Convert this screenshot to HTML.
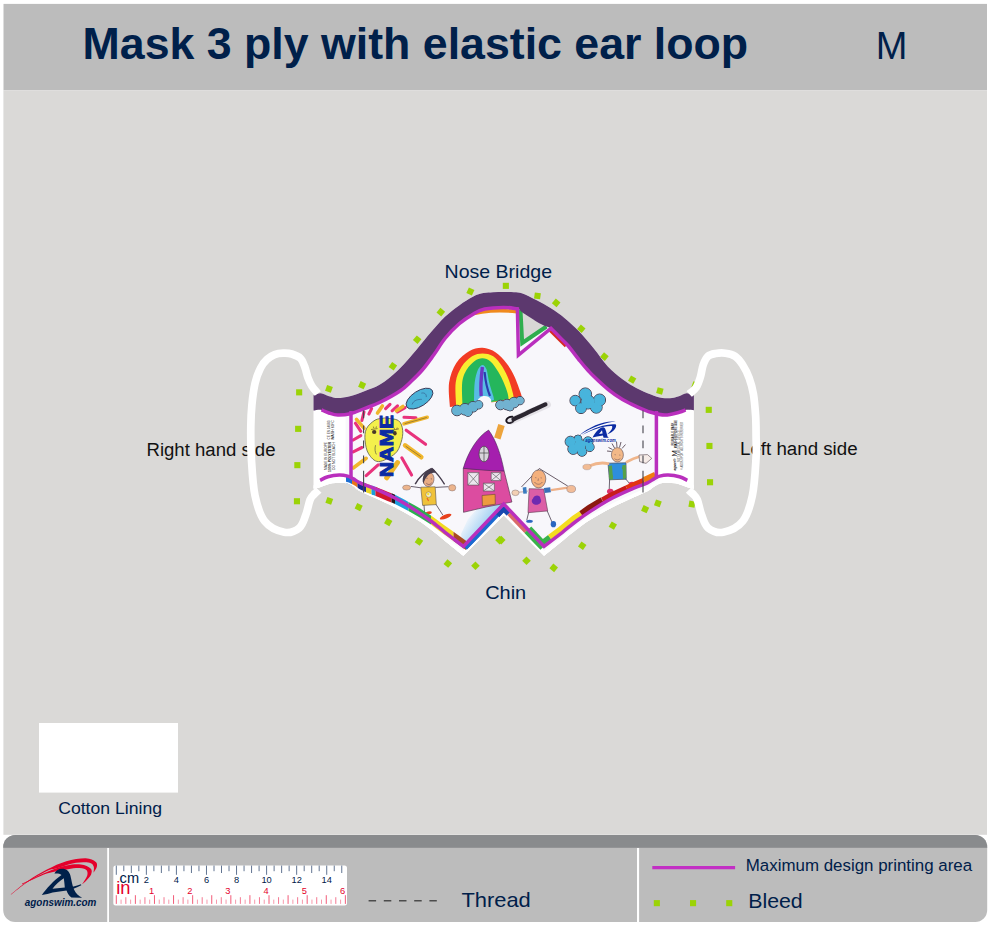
<!DOCTYPE html>
<html><head><meta charset="utf-8">
<title>Mask 3 ply with elastic ear loop</title>
<style>
html,body{margin:0;padding:0;background:#fff;}
body{width:988px;height:926px;position:relative;overflow:hidden;font-family:"Liberation Sans",Arial,sans-serif;color:#00204a;}
#hdr{position:absolute;left:3.5px;top:4px;width:983.5px;height:86px;background:#bcbcbc;}
#main{position:absolute;left:3.5px;top:90px;width:983.5px;height:744.7px;background:#dad9d7;}
#ftr{position:absolute;left:3.3px;top:834.8px;width:983.8px;height:87.3px;background:#bcbcbc;border-radius:12px;overflow:hidden;}
#ftr .top{position:absolute;left:0;top:0;width:100%;height:12.8px;background:#898b8d;}
.t{position:absolute;white-space:nowrap;line-height:1;z-index:2;}
#title{left:82.6px;top:21.6px;font-size:44.7px;font-weight:bold;}
#size{left:875.8px;top:26.6px;font-size:38px;}
svg{position:absolute;left:0;top:0;}
</style></head><body>
<div class="t" id="title">Mask 3 ply with elastic ear loop</div>
<div class="t" id="size">M</div>
<svg id="art" width="988" height="926" viewBox="0 0 988 926" font-family="Liberation Sans, Arial, sans-serif"><defs><clipPath id="mk"><path d="M313.5,395.3 C314.7,395.0 318.2,393.1 320.8,393.3 C323.4,393.5 326.2,395.5 329.0,396.3 C331.8,397.1 334.3,398.1 337.8,398.1 C341.3,398.1 345.5,397.5 350.0,396.3 C354.5,395.1 360.0,392.9 365.0,391.0 C370.0,389.1 374.4,388.1 380.0,384.6 C385.6,381.1 392.2,375.9 398.3,370.0 C404.4,364.1 411.3,355.7 416.7,349.4 C422.1,343.1 426.2,337.7 430.9,332.3 C435.6,326.9 440.3,321.3 445.0,316.8 C449.7,312.3 454.5,308.8 459.2,305.4 C463.9,302.0 469.3,298.6 473.4,296.5 C477.4,294.4 480.2,293.8 483.5,293.1 C486.8,292.4 489.6,292.4 493.0,292.2 C496.4,292.0 500.2,292.0 503.7,292.0 C507.2,292.0 510.9,292.0 514.0,292.2 C517.1,292.4 518.7,292.0 522.5,293.4 C526.3,294.8 532.0,297.8 536.7,300.3 C541.4,302.8 546.2,305.3 550.9,308.3 C555.6,311.3 560.3,314.5 565.0,318.4 C569.7,322.3 574.4,326.5 579.2,331.5 C584.0,336.5 589.0,342.6 593.8,348.5 C598.6,354.4 603.2,361.6 608.0,366.7 C612.8,371.8 617.7,375.6 622.5,379.2 C627.3,382.8 632.0,385.7 636.7,388.2 C641.4,390.7 646.6,392.8 650.9,394.4 C655.1,396.0 658.7,397.3 662.2,397.9 C665.7,398.5 669.3,398.4 672.1,398.1 C674.9,397.8 676.6,397.1 679.0,396.3 C681.4,395.5 684.0,393.5 686.5,393.3 C689.0,393.1 692.7,395.0 693.9,395.3 L693.9,488.8 C692.7,488.5 689.7,487.8 686.6,486.9 C683.5,486.0 679.3,483.9 675.3,483.3 C671.3,482.7 666.0,482.5 662.5,483.1 C659.0,483.7 656.5,485.3 654.0,486.7 C651.5,488.1 650.9,489.5 647.4,491.3 C643.9,493.1 639.1,494.9 633.2,497.6 C627.3,500.3 619.1,503.9 612.0,507.6 C604.9,511.3 596.6,516.0 590.7,519.6 C584.8,523.2 581.2,526.0 576.5,529.5 C571.8,533.0 567.8,536.5 562.4,540.9 C557.0,545.3 547.1,553.2 544.0,555.7 L503.7,515.3 L463.4,555.7 C460.3,553.2 450.4,545.3 445.0,540.9 C439.6,536.5 435.6,533.0 430.9,529.5 C426.2,526.0 422.6,523.2 416.7,519.6 C410.8,516.0 402.5,511.3 395.4,507.6 C388.3,503.9 380.1,500.3 374.2,497.6 C368.3,494.9 363.5,493.1 360.0,491.3 C356.5,489.5 355.9,488.1 353.4,486.7 C350.9,485.3 348.4,483.7 344.9,483.1 C341.3,482.5 336.1,482.7 332.1,483.3 C328.1,483.9 323.9,486.0 320.8,486.9 C317.7,487.8 314.7,488.5 313.5,488.8 Z"/></clipPath><clipPath id="ar"><rect x="345.6" y="280" width="312.5" height="290"/></clipPath><linearGradient id="bl" x1="0" y1="0.2" x2="1" y2="0.8"><stop offset="0.15" stop-color="#f4f7fc"/><stop offset="0.8" stop-color="#5fb2ec"/></linearGradient></defs><rect x="3.5" y="3.9" width="983.5" height="86.3" fill="#bcbcbc"/><rect x="3.4" y="90.2" width="983.6" height="744.6" fill="#dad9d7"/><clipPath id="fc"><rect x="3.2" y="834.9" width="984" height="87.2" rx="12" ry="12"/></clipPath><g clip-path="url(#fc)"><rect x="0" y="834" width="988" height="90" fill="#bcbcbc"/><rect x="0" y="834" width="988" height="13.8" fill="#898b8d"/></g><text x="146.5" y="455.8" font-size="18" fill="#111" textLength="129" lengthAdjust="spacingAndGlyphs">Right hand side</text><text x="740" y="454.8" font-size="18" fill="#111" textLength="117.6" lengthAdjust="spacingAndGlyphs">Left hand side</text><rect x="296.1" y="389.3" width="6.1" height="6.1" fill="#9bd306" transform="rotate(0 299.1 392.4)"/><rect x="295.1" y="425.8" width="6.1" height="6.1" fill="#9bd306" transform="rotate(0 298.1 428.8)"/><rect x="294.3" y="462.1" width="6.1" height="6.1" fill="#9bd306" transform="rotate(0 297.4 465.1)"/><rect x="293.9" y="498.2" width="6.1" height="6.1" fill="#9bd306" transform="rotate(0 297.0 501.3)"/><rect x="325.9" y="385.8" width="6.1" height="6.1" fill="#9bd306" transform="rotate(20 329.0 388.9)"/><rect x="359.1" y="382.1" width="6.1" height="6.1" fill="#9bd306" transform="rotate(25 362.1 385.1)"/><rect x="389.8" y="363.3" width="6.1" height="6.1" fill="#9bd306" transform="rotate(35 392.9 366.4)"/><rect x="414.1" y="336.6" width="6.1" height="6.1" fill="#9bd306" transform="rotate(40 417.1 339.7)"/><rect x="437.8" y="309.1" width="6.1" height="6.1" fill="#9bd306" transform="rotate(40 440.8 312.1)"/><rect x="467.3" y="288.4" width="6.1" height="6.1" fill="#9bd306" transform="rotate(25 470.4 291.5)"/><rect x="502.8" y="282.8" width="6.1" height="6.1" fill="#9bd306" transform="rotate(0 505.9 285.9)"/><rect x="534.4" y="292.8" width="6.1" height="6.1" fill="#9bd306" transform="rotate(8 537.4 295.9)"/><rect x="553.1" y="299.8" width="6.1" height="6.1" fill="#9bd306" transform="rotate(40 556.1 302.9)"/><rect x="578.2" y="325.8" width="6.1" height="6.1" fill="#9bd306" transform="rotate(40 581.3 328.8)"/><rect x="601.4" y="353.6" width="6.1" height="6.1" fill="#9bd306" transform="rotate(40 604.4 356.6)"/><rect x="629.1" y="376.6" width="6.1" height="6.1" fill="#9bd306" transform="rotate(30 632.1 379.7)"/><rect x="656.8" y="387.9" width="6.1" height="6.1" fill="#9bd306" transform="rotate(15 659.8 391.0)"/><rect x="692.2" y="382.1" width="6.1" height="6.1" fill="#9bd306" transform="rotate(20 695.2 385.2)"/><rect x="705.7" y="406.8" width="6.1" height="6.1" fill="#9bd306" transform="rotate(0 708.7 409.9)"/><rect x="706.4" y="442.9" width="6.1" height="6.1" fill="#9bd306" transform="rotate(0 709.4 446.0)"/><rect x="707.0" y="479.2" width="6.1" height="6.1" fill="#9bd306" transform="rotate(0 710.0 482.3)"/><rect x="688.9" y="501.1" width="6.1" height="6.1" fill="#9bd306" transform="rotate(10 691.9 504.1)"/><rect x="326.2" y="497.8" width="6.1" height="6.1" fill="#9bd306" transform="rotate(20 329.3 500.9)"/><rect x="355.6" y="504.1" width="6.1" height="6.1" fill="#9bd306" transform="rotate(25 358.7 507.2)"/><rect x="385.2" y="519.0" width="6.1" height="6.1" fill="#9bd306" transform="rotate(30 388.3 522.0)"/><rect x="415.9" y="538.6" width="6.1" height="6.1" fill="#9bd306" transform="rotate(35 419.0 541.6)"/><rect x="444.8" y="560.5" width="6.1" height="6.1" fill="#9bd306" transform="rotate(40 447.9 563.5)"/><rect x="472.4" y="562.7" width="6.1" height="6.1" fill="#9bd306" transform="rotate(45 475.5 565.7)"/><rect x="496.6" y="537.1" width="6.1" height="6.1" fill="#9bd306" transform="rotate(45 499.6 540.1)"/><rect x="498.2" y="537.1" width="6.1" height="6.1" fill="#9bd306" transform="rotate(45 501.3 540.1)"/><rect x="523.5" y="557.7" width="6.1" height="6.1" fill="#9bd306" transform="rotate(45 526.5 560.7)"/><rect x="550.7" y="564.8" width="6.1" height="6.1" fill="#9bd306" transform="rotate(40 553.7 567.8)"/><rect x="579.2" y="542.8" width="6.1" height="6.1" fill="#9bd306" transform="rotate(35 582.3 545.8)"/><rect x="609.8" y="522.5" width="6.1" height="6.1" fill="#9bd306" transform="rotate(30 612.8 525.5)"/><rect x="642.1" y="506.1" width="6.1" height="6.1" fill="#9bd306" transform="rotate(25 645.1 509.1)"/><rect x="654.8" y="500.3" width="6.1" height="6.1" fill="#9bd306" transform="rotate(20 657.8 503.4)"/><path d="M313.5,395.3 C314.7,395.0 318.2,393.1 320.8,393.3 C323.4,393.5 326.2,395.5 329.0,396.3 C331.8,397.1 334.3,398.1 337.8,398.1 C341.3,398.1 345.5,397.5 350.0,396.3 C354.5,395.1 360.0,392.9 365.0,391.0 C370.0,389.1 374.4,388.1 380.0,384.6 C385.6,381.1 392.2,375.9 398.3,370.0 C404.4,364.1 411.3,355.7 416.7,349.4 C422.1,343.1 426.2,337.7 430.9,332.3 C435.6,326.9 440.3,321.3 445.0,316.8 C449.7,312.3 454.5,308.8 459.2,305.4 C463.9,302.0 469.3,298.6 473.4,296.5 C477.4,294.4 480.2,293.8 483.5,293.1 C486.8,292.4 489.6,292.4 493.0,292.2 C496.4,292.0 500.2,292.0 503.7,292.0 C507.2,292.0 510.9,292.0 514.0,292.2 C517.1,292.4 518.7,292.0 522.5,293.4 C526.3,294.8 532.0,297.8 536.7,300.3 C541.4,302.8 546.2,305.3 550.9,308.3 C555.6,311.3 560.3,314.5 565.0,318.4 C569.7,322.3 574.4,326.5 579.2,331.5 C584.0,336.5 589.0,342.6 593.8,348.5 C598.6,354.4 603.2,361.6 608.0,366.7 C612.8,371.8 617.7,375.6 622.5,379.2 C627.3,382.8 632.0,385.7 636.7,388.2 C641.4,390.7 646.6,392.8 650.9,394.4 C655.1,396.0 658.7,397.3 662.2,397.9 C665.7,398.5 669.3,398.4 672.1,398.1 C674.9,397.8 676.6,397.1 679.0,396.3 C681.4,395.5 684.0,393.5 686.5,393.3 C689.0,393.1 692.7,395.0 693.9,395.3 L693.9,488.8 C692.7,488.5 689.7,487.8 686.6,486.9 C683.5,486.0 679.3,483.9 675.3,483.3 C671.3,482.7 666.0,482.5 662.5,483.1 C659.0,483.7 656.5,485.3 654.0,486.7 C651.5,488.1 650.9,489.5 647.4,491.3 C643.9,493.1 639.1,494.9 633.2,497.6 C627.3,500.3 619.1,503.9 612.0,507.6 C604.9,511.3 596.6,516.0 590.7,519.6 C584.8,523.2 581.2,526.0 576.5,529.5 C571.8,533.0 567.8,536.5 562.4,540.9 C557.0,545.3 547.1,553.2 544.0,555.7 L503.7,515.3 L463.4,555.7 C460.3,553.2 450.4,545.3 445.0,540.9 C439.6,536.5 435.6,533.0 430.9,529.5 C426.2,526.0 422.6,523.2 416.7,519.6 C410.8,516.0 402.5,511.3 395.4,507.6 C388.3,503.9 380.1,500.3 374.2,497.6 C368.3,494.9 363.5,493.1 360.0,491.3 C356.5,489.5 355.9,488.1 353.4,486.7 C350.9,485.3 348.4,483.7 344.9,483.1 C341.3,482.5 336.1,482.7 332.1,483.3 C328.1,483.9 323.9,486.0 320.8,486.9 C317.7,487.8 314.7,488.5 313.5,488.8 Z" fill="#fff"/><g clip-path="url(#mk)"><g clip-path="url(#ar)"><rect x="340" y="290" width="330" height="270" fill="#f8f7fb"/><path d="M463,547 L503.7,504 L512,501 L486,506.5 L477,509 L468,519 L461,534 Z" fill="url(#bl)"/><path d="M466,315.5 C480,311 500,309.8 517,311.6" stroke="#f08a1e" stroke-width="3.6" fill="none"/><path d="M549,329 L566,346" stroke="#d82a1e" stroke-width="3.5" fill="none"/><path d="M521,311 L523,340 L545,326.5 Z" fill="#d8d7d5"/><path d="M520.5,310 L522.2,343 L546.5,326.5" stroke="#2fae4e" stroke-width="4" fill="none" stroke-linejoin="miter"/><g transform="rotate(-33 419.5 398.6)"><ellipse cx="419.5" cy="398.6" rx="15.2" ry="7.6" fill="#4ab2d8" stroke="#3a3a58" stroke-width="0.9"/><path d="M410,399.5 C414,396.5 418,398.5 421,400.5 M424,395 C427,396 428,399 426,401" stroke="#3a6a98" stroke-width="0.7" fill="none"/></g><path d="M385.6,408.6 L390.0,404.3" stroke="#e8327c" stroke-width="3.1" stroke-linecap="round"/><path d="M392.1,410.8 L397.5,405.9" stroke="#e8327c" stroke-width="3.1" stroke-linecap="round"/><path d="M368.9,414.0 L371.6,408.6" stroke="#e8327c" stroke-width="3.1" stroke-linecap="round"/><path d="M361.9,420.5 L364.0,411.9" stroke="#e8327c" stroke-width="3.1" stroke-linecap="round"/><path d="M355.4,423.2 L360.8,431.3" stroke="#e8327c" stroke-width="3.1" stroke-linecap="round"/><path d="M353.2,440.0 L360.8,435.6" stroke="#e8327c" stroke-width="3.1" stroke-linecap="round"/><path d="M353.2,451.8 L361.9,447.5" stroke="#e8327c" stroke-width="3.1" stroke-linecap="round"/><path d="M366.2,475.6 L378.1,464.8" stroke="#e8327c" stroke-width="3.1" stroke-linecap="round"/><path d="M401.8,457.8 L411.6,475.0" stroke="#e8327c" stroke-width="3.1" stroke-linecap="round"/><path d="M406.2,430.2 L425.6,444.3" stroke="#e8327c" stroke-width="3.1" stroke-linecap="round"/><path d="M404.0,417.3 L415.9,417.8" stroke="#e8327c" stroke-width="3.1" stroke-linecap="round"/><path d="M397.5,411.9 L405.1,407.6" stroke="#e8327c" stroke-width="3.1" stroke-linecap="round"/><path d="M377.5,413.0 L382.4,405.9" stroke="#f0b62c" stroke-width="3.6" stroke-linecap="round"/><path d="M396.4,410.8 L402.9,406.5" stroke="#f0b62c" stroke-width="3.6" stroke-linecap="round"/><path d="M404.0,423.8 L427.2,417.3" stroke="#f0b62c" stroke-width="3.6" stroke-linecap="round"/><path d="M356.5,419.4 L364.0,428.1" stroke="#f0b62c" stroke-width="3.6" stroke-linecap="round"/><path d="M353.2,468.0 L366.2,458.3" stroke="#f0b62c" stroke-width="3.6" stroke-linecap="round"/><path d="M405.1,445.4 L421.3,457.2" stroke="#f0b62c" stroke-width="4.6" stroke-linecap="round"/><path d="M406.0,446.4 L420.4,456.4" stroke="#6a5a30" stroke-width="0.6" stroke-linecap="round"/><path d="M405.0,423.6 L426.4,417.6" stroke="#6a5a30" stroke-width="0.6" stroke-linecap="round"/><path d="M386.7,477.8 L397.5,462.6" stroke="#f0b62c" stroke-width="5.0" stroke-linecap="round"/><path d="M384.6,418.0 C386.9,418.4 395.4,418.5 398.4,420.6 C401.4,422.7 402.3,426.8 402.7,430.5 C403.1,434.2 402.3,438.7 401.0,442.6 C399.7,446.5 398.6,450.6 394.9,453.8 C391.1,457.0 382.9,461.6 378.5,461.6 C374.1,461.6 370.8,457.2 368.6,453.8 C366.4,450.4 365.5,445.1 365.1,440.9 C364.7,436.7 364.7,432.3 366.4,428.8 C368.1,425.3 372.1,421.9 375.1,420.1 C378.1,418.3 383.0,418.4 384.6,418.0 Z" fill="#f4f04c" stroke="#5a5a48" stroke-width="0.8"/><ellipse cx="374.2" cy="432" rx="2.2" ry="2" fill="#4a3a28"/><ellipse cx="394.9" cy="433.2" rx="1.8" ry="2.2" fill="#4a3a28"/><path d="M371,429.5 L377.5,428.6 M373.8,428.2 L373.4,426.6 M376,428 L376.4,426.4 M392,430.4 L399,428.8 M394.5,429.6 L394.2,427.8 M396.8,429.2 L397.2,427.6" stroke="#4a3a28" stroke-width="0.6" fill="none"/><path d="M375.5,445.2 C374.6,449 375,452 376.4,454.4" stroke="#5a5a40" stroke-width="0.7" fill="none"/><text transform="translate(392.6,477.3) rotate(-90)" font-family="Liberation Sans, Arial, sans-serif" font-weight="bold" font-size="18.4" fill="#0b2ba3" stroke="#0b2ba3" stroke-width="0.9" textLength="62.6" lengthAdjust="spacingAndGlyphs">NAME</text><path d="M449.9,407.0 C449.8,402.9 448.0,390.0 449.1,382.6 C450.2,375.2 452.9,368.2 456.3,362.9 C459.7,357.6 465.1,353.5 469.5,351.0 C473.9,348.5 478.2,347.6 482.6,347.8 C487.0,348.0 491.9,349.9 495.8,352.4 C499.8,354.9 503.2,359.0 506.3,362.9 C509.4,366.8 511.8,370.9 514.2,376.0 C516.6,381.1 519.5,389.4 520.8,393.2 C522.1,397.0 521.6,398.0 521.8,399.0 Z" fill="#f23c24"/><path d="M456.2,407.0 C456.1,402.9 454.8,389.3 455.7,382.6 C456.6,375.9 458.9,371.2 461.6,366.8 C464.3,362.4 468.6,358.5 472.1,356.3 C475.6,354.1 479.1,353.4 482.6,353.4 C486.1,353.4 489.9,354.1 493.2,356.3 C496.5,358.5 499.8,362.9 502.4,366.8 C505.0,370.8 507.1,375.6 508.9,380.0 C510.6,384.4 512.1,390.0 512.9,393.2 C513.7,396.4 513.6,398.0 513.8,399.0 Z" fill="#f9ee30"/><path d="M462.6,407.0 C462.5,402.9 461.5,388.9 462.2,382.6 C462.9,376.4 464.7,373.1 466.8,369.5 C468.9,365.9 472.1,362.8 474.7,360.9 C477.3,359.0 480.0,358.2 482.6,358.3 C485.2,358.4 487.9,359.3 490.5,361.6 C493.1,363.9 496.2,368.6 498.4,372.1 C500.6,375.6 502.2,379.1 503.7,382.6 C505.2,386.1 506.8,390.5 507.6,393.2 C508.4,395.9 508.4,398.0 508.6,399.0 Z" fill="#25b65c"/><path d="M474.0,404.0 C474.1,400.4 474.0,388.4 474.7,382.6 C475.4,376.9 476.7,372.4 478.0,369.5 C479.3,366.6 481.2,364.9 482.6,364.9 C484.0,364.9 485.5,366.6 486.6,369.5 C487.7,372.4 488.1,378.2 489.2,382.6 C490.3,387.0 492.4,392.9 493.2,395.8 C494.0,398.7 493.9,399.3 494.0,400.0 Z" fill="#58bce4"/><path d="M482.4,367 C481,378 480.5,388 481.2,396" stroke="#6a38c2" stroke-width="3.4" fill="none"/><path d="M484.6,372 C485.5,382 487.5,390 490,396" stroke="#2a3cae" stroke-width="2.2" fill="none"/><path d="M476.5,404 C477.5,395 488,394 491,399.5 L491.5,404 Z" fill="#f8f7fb"/><g><circle cx="457.0" cy="410.5" r="5.3" fill="#66b2d2" stroke="#4a4658" stroke-width="1"/><circle cx="465.0" cy="409.3" r="5.8" fill="#66b2d2" stroke="#4a4658" stroke-width="1"/><circle cx="473.0" cy="406.8" r="5.3" fill="#66b2d2" stroke="#4a4658" stroke-width="1"/><circle cx="478.6" cy="404.8" r="4.2" fill="#66b2d2" stroke="#4a4658" stroke-width="1"/><circle cx="468.0" cy="412.0" r="4.4" fill="#66b2d2" stroke="#4a4658" stroke-width="1"/><circle cx="457.0" cy="410.5" r="4.8" fill="#66b2d2"/><circle cx="465.0" cy="409.3" r="5.3" fill="#66b2d2"/><circle cx="473.0" cy="406.8" r="4.8" fill="#66b2d2"/><circle cx="478.6" cy="404.8" r="3.7" fill="#66b2d2"/><circle cx="468.0" cy="412.0" r="3.9" fill="#66b2d2"/></g><g><circle cx="500.5" cy="405.0" r="4.8" fill="#72b2d0" stroke="#4a4658" stroke-width="1"/><circle cx="507.0" cy="404.6" r="5.3" fill="#72b2d0" stroke="#4a4658" stroke-width="1"/><circle cx="514.0" cy="402.6" r="5.3" fill="#72b2d0" stroke="#4a4658" stroke-width="1"/><circle cx="520.0" cy="400.6" r="4.2" fill="#72b2d0" stroke="#4a4658" stroke-width="1"/><circle cx="510.0" cy="407.0" r="4.0" fill="#72b2d0" stroke="#4a4658" stroke-width="1"/><circle cx="500.5" cy="405.0" r="4.3" fill="#72b2d0"/><circle cx="507.0" cy="404.6" r="4.8" fill="#72b2d0"/><circle cx="514.0" cy="402.6" r="4.8" fill="#72b2d0"/><circle cx="520.0" cy="400.6" r="3.7" fill="#72b2d0"/><circle cx="510.0" cy="407.0" r="3.5" fill="#72b2d0"/></g><path d="M512.5,416.8 C507.5,416.6 505.2,420.2 507,422.2 C508.6,423.8 511.5,423 513,421.6" stroke="#17121c" stroke-width="1.9" fill="none" stroke-linecap="round"/><path d="M513.5,419.4 C519,416 524,415 528.5,412.2 C534,409.4 539,407.6 545.4,404.4" stroke="#17121c" stroke-width="4.3" fill="none" stroke-linecap="round"/><path d="M511,421 L547.5,404.6" stroke="#8a8690" stroke-width="7" fill="none" stroke-linecap="round" opacity="0.18"/><path d="M498.3,424 L504.7,426 L500.5,439.5 L494.2,437.5 Z" fill="#eda43c"/><path d="M463.3,468.3 L504.1,470.9 L511.9,502 L486,507 L463.5,512.3 Z" fill="#dc4ca0" stroke="#5a3a55" stroke-width="0.7"/><path d="M463.3,468.3 C468,452 478,436 488.6,430.1 C496,440 501,455 504.1,470.9 C490,471 476,469.5 463.3,468.3 Z" fill="#a51fae" stroke="#4a2a55" stroke-width="0.6"/><ellipse cx="484" cy="454" rx="5" ry="7.8" fill="#d8d4dc" stroke="#444" stroke-width="0.7"/><path d="M484,446.5 L484,461.5 M479.3,453 L488.7,453" stroke="#444" stroke-width="0.7"/><path d="M467.8,472.6 L478.9,472.6 L478.9,485.1 L467.8,485.1 Z M467.8,472.6 L478.9,485.1 M478.9,472.6 L467.8,485.1" fill="#ece6ee" stroke="#555" stroke-width="0.6"/><path d="M491.2,472.6 L500.9,472.6 L500.9,480.6 L491.2,480.6 Z M491.2,472.6 L500.9,480.6 M500.9,472.6 L491.2,480.6" fill="#ece6ee" stroke="#555" stroke-width="0.6"/><path d="M483.4,483.2 L494.4,483.2 L494.4,491.0 L483.4,491.0 Z M483.4,483.2 L494.4,491.0 M494.4,483.2 L483.4,491.0" fill="#ece6ee" stroke="#555" stroke-width="0.6"/><path d="M482.1,495.5 L495.1,494.3 L495.3,504.2 L482.4,506 Z" fill="#ee9a3e" stroke="#6a4a30" stroke-width="0.6"/><path d="M431.7,468.3 Q421,473.5 415.2,484.1" stroke="#453c4c" stroke-width="1.5" fill="none"/><path d="M431.7,468.3 Q438.5,474.5 444.6,484.4" stroke="#453c4c" stroke-width="1.3" fill="none"/><ellipse cx="428.6" cy="479.4" rx="5.4" ry="7.2" fill="#e8ac84" stroke="#5a4c58" stroke-width="0.5" transform="rotate(8 428.6 479.4)"/><path d="M423.2,484 C421.5,476 425,470.2 432.5,468.5 C434.5,469.5 435.5,471 435.8,473 C431,471.5 426,475 423.2,484 Z" fill="#453c4c"/><path d="M426.3,483.2 C428,485.2 430.6,484.8 431.8,482.6 M426.4,478.3 L427.6,478.3 M430.8,478.8 L432,479" stroke="#5a4458" stroke-width="0.6" fill="none"/><path d="M420.8,487.2 L435.2,486.8 L436.3,504.6 L422.6,505.4 Z" fill="#f0c23a" stroke="#5a5048" stroke-width="0.6"/><circle cx="428.6" cy="494.6" r="2.7" fill="#f6f0cc" stroke="#6a6040" stroke-width="0.4"/><circle cx="428.2" cy="494" r="1.2" fill="#f4e034"/><path d="M427,498 L428.6,501" stroke="#e8602c" stroke-width="1.2"/><path d="M420.8,487.8 L410.8,486.4 M435.4,487.4 L448.6,486.7" stroke="#5a5060" stroke-width="0.9"/><ellipse cx="406.6" cy="487.6" rx="4" ry="2.5" fill="#ecb48c" stroke="#6a5a60" stroke-width="0.4"/><ellipse cx="452.2" cy="487.8" rx="3.6" ry="3.2" fill="#ecb48c" stroke="#6a5a60" stroke-width="0.4"/><path d="M424,505.2 L424.6,512.8 M436,504.4 L442.8,515" stroke="#4a4050" stroke-width="0.8"/><ellipse cx="428.4" cy="512.9" rx="3.4" ry="1.5" fill="#e8401c" transform="rotate(-12 428.4 512.9)"/><ellipse cx="445.6" cy="516.6" rx="6.2" ry="2" fill="#e8401c" transform="rotate(-22 445.6 516.6)"/><path d="M539.3,468.5 L521.5,486.9 M539.3,468.5 L567.8,486.1" stroke="#5a4c58" stroke-width="0.9" fill="none"/><ellipse cx="538.6" cy="478.9" rx="7.2" ry="9" fill="#f4b07c" stroke="#5a4a50" stroke-width="0.6"/><path d="M534.4,482 C536.5,485 540.5,485 542.4,482 M535.2,477.6 L536.4,477.8 M540.6,477.8 L541.8,478 M538.4,478.5 L538,481" stroke="#6a5058" stroke-width="0.55" fill="none"/><path d="M529.1,488.7 L543.7,489.1 L547.7,510.9 L528,512.7 Z" fill="#dc5ea6" stroke="#5a4050" stroke-width="0.6"/><path d="M533,498.5 C534,494.5 540.5,494.5 540.5,498.8 C543,502.5 538,506 534.5,504.5 C531.5,503.5 531,500 533,498.5 Z" fill="#6e2ab0"/><path d="M529,491 L518,492.4" stroke="#d8c8c8" stroke-width="1.6"/><path d="M551,490.1 L568,487.6" stroke="#eeb088" stroke-width="2.2"/><rect x="523" y="487.2" width="3.6" height="6.4" fill="#3a7cc0" transform="rotate(-6 524.8 490.4)"/><rect x="544.2" y="487.6" width="6.4" height="5" fill="#3a70b8" transform="rotate(-8 547.4 490.1)"/><ellipse cx="515.4" cy="492.8" rx="3.6" ry="2.8" fill="#f2d0b4" stroke="#6a5a60" stroke-width="0.4"/><ellipse cx="571.2" cy="489" rx="4.4" ry="3.6" fill="#f2bc98" stroke="#6a5a60" stroke-width="0.4"/><path d="M528.6,512.7 L526.8,520 M547.2,510.9 L552.3,522.8" stroke="#4a4050" stroke-width="0.8"/><ellipse cx="529.5" cy="521.2" rx="3.3" ry="1.5" fill="#2a66c0"/><ellipse cx="553.4" cy="524.2" rx="2.7" ry="3.1" fill="#2a66c0"/><path d="M614.5,448 L612,443.5 M617,447.3 L616.5,441.5 M619.5,447.5 L621,442 M622,448.5 L625.5,444.5 M612.5,449.5 L608.5,447.5 M611.5,451.5 L607,451" stroke="#5a4c58" stroke-width="0.9"/><ellipse cx="617.4" cy="454.8" rx="6" ry="7.2" fill="#f2b888" stroke="#5a4a50" stroke-width="0.6"/><path d="M614.5,458.6 C616,460.4 619,460.2 620.4,458.4 M614.6,454.6 L615.8,454.8 M619.2,455 L620.4,455.2" stroke="#6a5058" stroke-width="0.55" fill="none"/><path d="M608,463.2 L626,462.8 L626.2,479.2 L609.4,479.8 Z" fill="#2e8edc" stroke="#4a4a58" stroke-width="0.7"/><path d="M608.6,466 L612,465.5 L613,479.5 L609.4,479.8 Z M622.5,465 L626,465 L626.2,478 L623,479.2 Z" fill="#56a04a"/><circle cx="611" cy="476.5" r="2" fill="#56a04a"/><circle cx="623.6" cy="468" r="1.8" fill="#56a04a"/><path d="M608,463.6 C601,462 595,463.5 589,466" stroke="#f0b68c" stroke-width="2.8" fill="none" stroke-linecap="round"/><ellipse cx="587" cy="467" rx="4.2" ry="2.8" fill="#f2bc94" stroke="#7a6a68" stroke-width="0.3"/><path d="M626,462.4 C631,459.5 635,457.6 640,456.4" stroke="#f0b68c" stroke-width="2.6" fill="none"/><path d="M639,455 L647.5,454.6 L651.8,458.4 L646,463.4 L639.6,461.6 Z" fill="#f6ece8" stroke="#5a4a50" stroke-width="0.6"/><path d="M609.6,479.6 L609.2,490 M625.6,478.8 L629.6,483.6" stroke="#4a4050" stroke-width="0.8"/><ellipse cx="610.3" cy="491.4" rx="3.3" ry="2.6" fill="#dc306c"/><ellipse cx="632" cy="484" rx="3.3" ry="2.3" fill="#dc306c"/><g><circle cx="585.3" cy="394.2" r="6.3" fill="#48b4dc" stroke="#4a4658" stroke-width="1"/><circle cx="575.2" cy="400.6" r="5.3" fill="#48b4dc" stroke="#4a4658" stroke-width="1"/><circle cx="581.0" cy="408.2" r="5.4" fill="#48b4dc" stroke="#4a4658" stroke-width="1"/><circle cx="596.3" cy="407.3" r="5.9" fill="#48b4dc" stroke="#4a4658" stroke-width="1"/><circle cx="599.6" cy="400.0" r="6.0" fill="#48b4dc" stroke="#4a4658" stroke-width="1"/><circle cx="588.0" cy="402.0" r="7.0" fill="#48b4dc" stroke="#4a4658" stroke-width="1"/><circle cx="585.3" cy="394.2" r="5.8" fill="#48b4dc"/><circle cx="575.2" cy="400.6" r="4.8" fill="#48b4dc"/><circle cx="581.0" cy="408.2" r="4.9" fill="#48b4dc"/><circle cx="596.3" cy="407.3" r="5.4" fill="#48b4dc"/><circle cx="599.6" cy="400.0" r="5.5" fill="#48b4dc"/><circle cx="588.0" cy="402.0" r="6.5" fill="#48b4dc"/></g><g><circle cx="570.5" cy="441.6" r="5.4" fill="#48b4dc" stroke="#4a4658" stroke-width="1"/><circle cx="578.0" cy="439.0" r="4.0" fill="#48b4dc" stroke="#4a4658" stroke-width="1"/><circle cx="588.0" cy="441.8" r="5.0" fill="#48b4dc" stroke="#4a4658" stroke-width="1"/><circle cx="589.8" cy="447.2" r="4.4" fill="#48b4dc" stroke="#4a4658" stroke-width="1"/><circle cx="582.0" cy="451.5" r="4.8" fill="#48b4dc" stroke="#4a4658" stroke-width="1"/><circle cx="573.2" cy="449.0" r="5.4" fill="#48b4dc" stroke="#4a4658" stroke-width="1"/><circle cx="580.0" cy="445.5" r="6.0" fill="#48b4dc" stroke="#4a4658" stroke-width="1"/><circle cx="570.5" cy="441.6" r="4.9" fill="#48b4dc"/><circle cx="578.0" cy="439.0" r="3.5" fill="#48b4dc"/><circle cx="588.0" cy="441.8" r="4.5" fill="#48b4dc"/><circle cx="589.8" cy="447.2" r="3.9" fill="#48b4dc"/><circle cx="582.0" cy="451.5" r="4.3" fill="#48b4dc"/><circle cx="573.2" cy="449.0" r="4.9" fill="#48b4dc"/><circle cx="580.0" cy="445.5" r="5.5" fill="#48b4dc"/></g><path d="M579,435.5 C590,426 606,420 615.8,421.8 C608,421.5 592,427 579,435.5 Z M582,435 C594,427.5 608,423.5 616,424.5 C617,428 613,432 607,434.5 C611,431 613,428 612,426 C604,425.5 592,430 582,435 Z" fill="#0b2ba3"/><path d="M592.5,437.5 C596,431 600,427.5 603,427.2 C605.5,427 606,431 607.5,436.5 L608.8,437.8 L603.5,437.8 L603,435.5 L597,436.5 Z M599,434 L602.6,433.4 L602,430.2 Z" fill="#0b2ba3" fill-rule="evenodd"/><text x="585.3" y="442.3" font-family="Liberation Sans, Arial, sans-serif" font-style="italic" font-weight="bold" font-size="4.6" fill="#0b2ba3" textLength="30.5" lengthAdjust="spacingAndGlyphs">agonswim.com</text></g><path d="M313.5,488.8 C314.7,488.5 317.7,487.8 320.8,486.9 C323.9,486.0 328.1,483.9 332.1,483.3 C336.1,482.7 341.3,482.5 344.9,483.1 C348.4,483.7 350.9,485.3 353.4,486.7 C355.9,488.1 356.5,489.5 360.0,491.3 C363.5,493.1 368.3,494.9 374.2,497.6 C380.1,500.3 388.3,503.9 395.4,507.6 C402.5,511.3 410.8,516.0 416.7,519.6 C422.6,523.2 426.2,526.0 430.9,529.5 C435.6,533.0 439.6,536.5 445.0,540.9 C450.4,545.3 460.3,553.2 463.4,555.7 L503.7,515.3 L544.0,555.7 C547.1,553.2 557.0,545.3 562.4,540.9 C567.8,536.5 571.8,533.0 576.5,529.5 C581.2,526.0 584.8,523.2 590.7,519.6 C596.6,516.0 604.9,511.3 612.0,507.6 C619.1,503.9 627.3,500.3 633.2,497.6 C639.1,494.9 643.9,493.1 647.4,491.3 C650.9,489.5 651.5,488.1 654.0,486.7 C656.5,485.3 659.0,483.7 662.5,483.1 C666.0,482.5 671.3,482.7 675.3,483.3 C679.3,483.9 683.5,486.0 686.6,486.9 C689.7,487.8 692.7,488.5 693.9,488.8" fill="none" stroke="#fff" stroke-width="7" stroke-linejoin="miter"/><g clip-path="url(#ar)"><path d="M346.0,475.5 L347.5,475.6 L349.0,476.2 L350.5,476.8 L352.0,477.4 L352.0,486.6 L350.5,486.0 L349.0,485.4 L347.5,484.8 L346.0,484.7 Z" fill="#1c6ed2"/><path d="M352.0,477.4 L353.4,478.0 L354.8,478.8 L356.1,479.5 L357.5,480.2 L357.5,489.4 L356.1,488.7 L354.8,488.0 L353.4,487.2 L352.0,486.6 Z" fill="#ea7418"/><path d="M357.5,480.2 L359.6,481.3 L361.8,482.1 L363.9,482.8 L366.0,483.5 L366.0,492.7 L363.9,492.0 L361.8,491.3 L359.6,490.5 L357.5,489.4 Z" fill="#18288c"/><path d="M366.0,483.5 L367.4,484.0 L368.8,484.4 L370.1,484.9 L371.5,485.4 L371.5,494.6 L370.1,494.1 L368.8,493.6 L367.4,493.2 L366.0,492.7 Z" fill="#e8d428"/><path d="M371.5,485.4 L372.5,485.7 L373.5,486.0 L374.5,486.4 L375.5,486.8 L375.5,496.0 L374.5,495.6 L373.5,495.2 L372.5,494.9 L371.5,494.6 Z" fill="#1c9cd8"/><path d="M375.5,486.8 L379.5,488.4 L383.5,490.0 L387.5,491.7 L391.5,493.3 L391.5,502.5 L387.5,500.9 L383.5,499.2 L379.5,497.6 L375.5,496.0 Z" fill="#d21a2c"/><path d="M391.5,493.3 L392.4,493.6 L393.2,494.0 L394.1,494.3 L395.0,494.7 L395.0,503.9 L394.1,503.5 L393.2,503.2 L392.4,502.8 L391.5,502.5 Z" fill="#20141c"/><path d="M395.0,494.7 L398.4,496.5 L401.8,498.3 L405.1,500.1 L408.5,501.9 L408.5,511.1 L405.1,509.3 L401.8,507.5 L398.4,505.7 L395.0,503.9 Z" fill="#1e9cdc"/><path d="M408.5,501.9 L414.1,505.0 L419.8,508.3 L425.4,511.9 L431.0,515.4 L431.0,524.6 L425.4,521.1 L419.8,517.5 L414.1,514.2 L408.5,511.1 Z" fill="#2cae50"/><path d="M431.0,515.4 L436.6,519.6 L442.2,523.8 L447.9,527.8 L453.5,531.8 L453.5,541.0 L447.9,537.0 L442.2,533.0 L436.6,528.8 L431.0,524.6 Z" fill="#f2da20"/><path d="M453.5,531.8 L456.6,534.0 L459.8,536.3 L462.9,538.5 L466.0,540.8 L466.0,550.0 L462.9,547.7 L459.8,545.5 L456.6,543.2 L453.5,541.0 Z" fill="#a84c22"/><path d="M462.7,545.8 L503.0,503.3 L507.3,507.4 L467.0,549.9 Z" fill="#1c6ad0"/><path d="M494.3,512.5 L503.0,503.3 L508.1,508.1 L499.4,517.3 Z" fill="#1848b0"/><path d="M504.4,503.3 L511.7,511.0 L506.6,515.8 L499.3,508.1 Z" fill="#1848b0"/><path d="M511.0,511.7 L528.0,529.7 L524.4,533.1 L507.4,515.1 Z" fill="#d96a6a"/><path d="M531.3,526.6 L547.1,543.4 L540.2,549.9 L524.4,533.1 Z" fill="#38b24a"/><path d="M539.9,541.3 L548.1,535.1 L552.0,540.3 L543.8,546.5 Z" fill="#38b24a"/><path d="M548.0,535.1 L558.4,527.2 L572.5,515.8 L579.3,511.2 L583.0,516.5 L576.5,521.0 L562.4,532.3 L552.0,540.3 Z" fill="#f4dc20"/><path d="M579.3,511.2 L587.2,505.6 L600.6,497.4 L604.0,503.0 L590.7,511.1 L583.0,516.5 Z" fill="#8c1a10"/><path d="M601.0,497.8 L609.3,493.0 L625.5,485.4 L628.0,490.8 L612.0,498.3 L604.0,503.0 Z" fill="#c81c1c"/><path d="M625.5,485.4 L630.9,482.9 L642.8,478.1 L645.0,483.7 L633.2,488.4 L628.0,490.8 Z" fill="#e23412"/><path d="M642.5,477.1 L644.6,476.4 L654.1,472.1 L657.0,478.5 L647.4,482.8 L645.0,483.7 Z" fill="#f07c12"/></g><path d="M313.5,488.8 C314.7,488.5 317.7,487.8 320.8,486.9 C323.9,486.0 328.1,483.9 332.1,483.3 C336.1,482.7 341.3,482.5 344.9,483.1 C348.4,483.7 350.9,485.3 353.4,486.7 C355.9,488.1 356.5,489.5 360.0,491.3 C363.5,493.1 368.3,494.9 374.2,497.6 C380.1,500.3 388.3,503.9 395.4,507.6 C402.5,511.3 410.8,516.0 416.7,519.6 C422.6,523.2 426.2,526.0 430.9,529.5 C435.6,533.0 439.6,536.5 445.0,540.9 C450.4,545.3 460.3,553.2 463.4,555.7 L503.7,515.3 L544.0,555.7 C547.1,553.2 557.0,545.3 562.4,540.9 C567.8,536.5 571.8,533.0 576.5,529.5 C581.2,526.0 584.8,523.2 590.7,519.6 C596.6,516.0 604.9,511.3 612.0,507.6 C619.1,503.9 627.3,500.3 633.2,497.6 C639.1,494.9 643.9,493.1 647.4,491.3 C650.9,489.5 651.5,488.1 654.0,486.7 C656.5,485.3 659.0,483.7 662.5,483.1 C666.0,482.5 671.3,482.7 675.3,483.3 C679.3,483.9 683.5,486.0 686.6,486.9 C689.7,487.8 692.7,488.5 693.9,488.8" fill="none" stroke="#fff" stroke-width="3.4" stroke-linejoin="miter"/></g><path d="M313.5,395.3 C314.7,395.0 318.2,393.1 320.8,393.3 C323.4,393.5 326.2,395.5 329.0,396.3 C331.8,397.1 334.3,398.1 337.8,398.1 C341.3,398.1 345.5,397.5 350.0,396.3 C354.5,395.1 360.0,392.9 365.0,391.0 C370.0,389.1 374.4,388.1 380.0,384.6 C385.6,381.1 392.2,375.9 398.3,370.0 C404.4,364.1 411.3,355.7 416.7,349.4 C422.1,343.1 426.2,337.7 430.9,332.3 C435.6,326.9 440.3,321.3 445.0,316.8 C449.7,312.3 454.5,308.8 459.2,305.4 C463.9,302.0 469.3,298.6 473.4,296.5 C477.4,294.4 480.2,293.8 483.5,293.1 C486.8,292.4 489.6,292.4 493.0,292.2 C496.4,292.0 500.2,292.0 503.7,292.0 C507.2,292.0 510.9,292.0 514.0,292.2 C517.1,292.4 518.7,292.0 522.5,293.4 C526.3,294.8 532.0,297.8 536.7,300.3 C541.4,302.8 546.2,305.3 550.9,308.3 C555.6,311.3 560.3,314.5 565.0,318.4 C569.7,322.3 574.4,326.5 579.2,331.5 C584.0,336.5 589.0,342.6 593.8,348.5 C598.6,354.4 603.2,361.6 608.0,366.7 C612.8,371.8 617.7,375.6 622.5,379.2 C627.3,382.8 632.0,385.7 636.7,388.2 C641.4,390.7 646.6,392.8 650.9,394.4 C655.1,396.0 658.7,397.3 662.2,397.9 C665.7,398.5 669.3,398.4 672.1,398.1 C674.9,397.8 676.6,397.1 679.0,396.3 C681.4,395.5 684.0,393.5 686.5,393.3 C689.0,393.1 692.7,395.0 693.9,395.3 L693.9,410.3 C692.5,410.2 688.0,409.6 685.6,409.9 C683.2,410.2 682.6,411.4 679.2,412.3 C675.8,413.2 669.7,415.1 665.0,415.1 C660.3,415.1 655.6,413.7 650.9,412.3 C646.2,410.9 641.4,408.7 636.7,406.6 C632.0,404.5 627.2,402.3 622.5,399.5 C617.8,396.7 613.0,393.4 608.3,389.6 C603.6,385.8 597.6,380.1 594.2,376.8 C590.8,373.5 590.1,372.6 587.7,370.0 C585.3,367.4 583.3,365.1 580.0,361.0 C576.7,356.9 571.4,349.6 567.9,345.5 C564.4,341.4 561.8,339.4 559.0,336.5 C556.2,333.6 553.2,330.1 550.9,328.3 C548.6,326.6 547.4,327.1 545.0,326.0 C542.6,324.9 540.5,323.9 536.7,321.7 C533.0,319.4 525.7,314.6 522.5,312.5 C519.3,310.4 520.5,309.7 517.4,308.8 C514.3,307.9 509.1,307.4 503.7,307.4 C498.2,307.4 489.8,307.9 484.7,309.0 C479.6,310.1 477.6,311.4 473.4,313.9 C469.1,316.4 463.9,319.7 459.2,323.8 C454.5,327.9 449.2,333.3 445.0,338.5 C440.8,343.7 437.5,349.8 433.7,355.0 C429.9,360.2 426.1,365.6 422.3,370.0 C418.5,374.4 414.7,378.0 411.0,381.5 C407.3,385.0 405.2,387.5 400.0,391.0 C394.8,394.5 385.8,399.4 380.0,402.3 C374.2,405.2 369.9,406.4 365.0,408.3 C360.1,410.2 355.0,412.6 350.5,413.7 C346.0,414.8 341.4,415.2 337.8,415.1 C334.2,415.0 331.7,413.9 329.0,413.0 C326.3,412.1 324.1,410.3 321.5,409.9 C318.9,409.5 314.8,410.5 313.5,410.6 Z" fill="#5c386e"/><path d="M321.5,409.9 C322.8,410.4 326.3,412.1 329.0,413.0 C331.7,413.9 334.2,415.0 337.8,415.1 C341.4,415.2 346.0,414.8 350.5,413.7 C355.0,412.6 360.1,410.2 365.0,408.3 C369.9,406.4 374.2,405.2 380.0,402.3 C385.8,399.4 394.8,394.5 400.0,391.0 C405.2,387.5 407.3,385.0 411.0,381.5 C414.7,378.0 418.5,374.4 422.3,370.0 C426.1,365.6 429.9,360.2 433.7,355.0 C437.5,349.8 440.8,343.7 445.0,338.5 C449.2,333.3 454.5,327.9 459.2,323.8 C463.9,319.7 469.1,316.4 473.4,313.9 C477.6,311.4 479.6,310.1 484.7,309.0 C489.8,307.9 498.2,307.4 503.7,307.4 C509.1,307.4 515.1,308.6 517.4,308.8 L518.4,355 L550.9,328.3 C552.2,329.7 556.2,333.6 559.0,336.5 C561.8,339.4 564.4,341.4 567.9,345.5 C571.4,349.6 576.7,356.9 580.0,361.0 C583.3,365.1 585.3,367.4 587.7,370.0 C590.1,372.6 590.8,373.5 594.2,376.8 C597.6,380.1 603.6,385.8 608.3,389.6 C613.0,393.4 617.8,396.7 622.5,399.5 C627.2,402.3 632.0,404.5 636.7,406.6 C641.4,408.7 646.2,410.9 650.9,412.3 C655.6,413.7 660.3,415.1 665.0,415.1 C669.7,415.1 675.8,413.2 679.2,412.3 C682.6,411.4 684.5,410.3 685.6,409.9" fill="none" stroke="#b92fbd" stroke-width="3.5" stroke-linejoin="miter"/><path d="M320.1,480.3 C321.4,479.7 324.7,477.7 327.9,476.8 C331.1,475.9 335.9,475.2 339.2,475.1 C342.5,475.0 345.3,475.5 347.7,476.1 C350.1,476.7 351.3,477.8 353.4,478.9 C355.4,480.0 356.5,481.2 360.0,482.8 C363.5,484.4 368.3,485.8 374.2,488.4 C380.1,491.0 388.3,494.5 395.4,498.3 C402.5,502.1 410.8,507.3 416.7,511.1 C422.6,514.9 426.2,517.5 430.9,521.0 C435.6,524.5 439.6,528.0 445.0,532.3 C450.4,536.5 460.3,544.1 463.4,546.5 L503.7,504.0 L544.0,546.5 C547.1,544.1 557.0,536.5 562.4,532.3 C567.8,528.0 571.8,524.5 576.5,521.0 C581.2,517.5 584.8,514.9 590.7,511.1 C596.6,507.3 604.9,502.1 612.0,498.3 C619.1,494.5 627.3,491.0 633.2,488.4 C639.1,485.8 643.9,484.4 647.4,482.8 C650.9,481.2 652.0,480.0 654.0,478.9 C656.0,477.8 657.3,476.7 659.7,476.1 C662.1,475.5 664.9,475.0 668.2,475.1 C671.5,475.2 676.3,475.9 679.5,476.8 C682.7,477.7 686.0,479.7 687.3,480.3" fill="none" stroke="#b92fbd" stroke-width="3.5" stroke-linejoin="miter"/><path d="M351,411 V477.5 M656.4,411 V478.5" stroke="#b92fbd" stroke-width="3.5"/><path d="M363.6,410.5 V470 M643,410.5 V470" stroke="#44444c" stroke-width="1.1" stroke-dasharray="7.8 7.2"/><path d="M363.6,470.8 V492.4 M643,470.8 V492.6" stroke="#44444c" stroke-width="1.1"/><g fill="#222" font-family="Liberation Sans, Arial, sans-serif"><text transform="translate(327.3,470) rotate(-90)" font-size="3" textLength="28" lengthAdjust="spacingAndGlyphs">MADE IN EUROPE</text><text transform="translate(330.8,472) rotate(-90)" font-size="3.6" font-weight="bold" textLength="30" lengthAdjust="spacingAndGlyphs">100% POLYESTER</text><text transform="translate(334.8,470) rotate(-90)" font-size="3" textLength="28" lengthAdjust="spacingAndGlyphs">DO NOT BLEACH</text><text transform="translate(329.8,439.5) rotate(-90)" font-size="3" textLength="19" lengthAdjust="spacingAndGlyphs">CE EN 14683</text><text transform="translate(333.8,440) rotate(-90)" font-size="3.4" textLength="20" lengthAdjust="spacingAndGlyphs">WASH 60°C</text></g><g fill="#111" font-family="Liberation Sans, Arial, sans-serif"><text transform="translate(676.2,470.6) rotate(-90)" font-size="4.2" font-weight="bold" font-style="italic" textLength="12" lengthAdjust="spacingAndGlyphs">agon®</text><text transform="translate(676.6,456.5) rotate(-90)" font-size="7.4" textLength="6.4" lengthAdjust="spacingAndGlyphs">M</text><text transform="translate(674.2,445.6) rotate(-90)" font-size="3.2" font-weight="bold" textLength="23" lengthAdjust="spacingAndGlyphs">REUSABLE MASK</text><text transform="translate(677.2,448) rotate(-90)" font-size="3.2" font-weight="bold" textLength="28" lengthAdjust="spacingAndGlyphs">WASH BEFORE USE</text><text transform="translate(680,462) rotate(-90)" font-size="2.6" fill="#555" textLength="32" lengthAdjust="spacingAndGlyphs">NOT A MEDICAL DEVICE</text><text transform="translate(683.2,470) rotate(-90)" font-size="2.8" fill="#444" textLength="48" lengthAdjust="spacingAndGlyphs">© AGON SPORT ALL RIGHTS RESERVED</text></g><path d="M317.8,393.5 C316.8,392.2 313.4,388.5 311.8,385.9 C310.2,383.3 309.2,380.9 308.0,377.8 C306.8,374.7 306.1,370.2 304.8,367.0 C303.6,363.8 302.7,360.6 300.5,358.4 C298.3,356.2 294.7,354.9 291.8,354.0 C288.9,353.1 286.1,353.1 283.2,353.2 C280.3,353.3 277.3,353.6 274.6,354.6 C271.9,355.6 269.4,357.1 267.0,359.4 C264.6,361.6 262.5,364.1 260.5,368.1 C258.5,372.1 256.5,377.1 255.1,383.2 C253.7,389.3 252.6,397.6 251.9,404.8 C251.2,412.0 250.9,417.4 250.8,426.4 C250.7,435.4 250.7,447.3 251.4,458.8 C252.1,470.3 252.8,485.1 255.0,495.5 C257.2,505.9 259.9,515.3 264.8,521.4 C269.7,527.5 278.4,531.1 284.2,532.2 C289.9,533.3 295.7,530.8 299.3,527.9 C302.9,525.0 304.0,519.6 305.8,514.9 C307.6,510.2 308.7,503.3 310.1,499.8 C311.5,496.3 312.9,495.6 314.4,494.0 C315.8,492.4 318.1,490.8 318.8,490.1" fill="none" stroke="#fff" stroke-width="7.7" stroke-linecap="butt"/><path d="M689.2,394.0 C690.4,392.9 694.3,390.4 696.2,387.5 C698.1,384.6 699.3,380.5 700.5,376.7 C701.7,372.9 701.9,368.2 703.2,364.8 C704.5,361.4 706.0,358.1 708.1,356.2 C710.2,354.3 712.7,354.0 715.6,353.5 C718.5,353.0 722.1,352.8 725.4,353.2 C728.6,353.6 732.2,354.3 735.1,356.2 C738.0,358.1 740.3,361.2 742.6,364.8 C744.9,368.4 747.3,372.9 749.1,377.8 C750.9,382.7 752.3,387.7 753.4,394.0 C754.5,400.3 755.1,408.4 755.6,415.6 C756.1,422.8 756.0,430.0 756.1,437.2 C756.2,444.4 756.6,449.1 756.0,458.8 C755.4,468.5 754.6,485.1 752.4,495.5 C750.2,505.9 747.5,515.3 742.6,521.4 C737.7,527.5 729.0,531.1 723.2,532.2 C717.5,533.3 711.7,530.8 708.1,527.9 C704.5,525.0 703.4,519.6 701.6,514.9 C699.8,510.2 698.7,503.3 697.3,499.8 C695.9,496.3 694.5,495.6 693.0,494.0 C691.5,492.4 689.3,490.8 688.6,490.1" fill="none" stroke="#fff" stroke-width="7.7" stroke-linecap="butt"/><text x="444.6" y="277.8" font-size="18.6" fill="#00204a" textLength="107.4" lengthAdjust="spacingAndGlyphs">Nose Bridge</text><text x="485.2" y="599.4" font-size="18.6" fill="#00204a" textLength="41" lengthAdjust="spacingAndGlyphs">Chin</text><rect x="39" y="723" width="139" height="69.6" fill="#fff"/><text x="58.2" y="813.7" font-size="17" fill="#00204a" textLength="103.8" lengthAdjust="spacingAndGlyphs">Cotton Lining</text><rect x="107.2" y="848" width="1.8" height="74" fill="#fff"/><rect x="637" y="848" width="2.1" height="74" fill="#fff"/><g><path d="M10.9,894.3 C13.7,892.1 21.4,885.3 27.4,881.2 C33.4,877.1 40.4,872.8 46.9,869.5 C53.4,866.2 59.8,863.1 66.3,861.2 C72.8,859.3 80.8,858.2 85.7,858.3 C90.6,858.4 93.6,860.3 95.5,861.7 C97.4,863.1 97.2,864.7 96.9,866.6 C96.6,868.5 94.1,871.9 93.5,872.9 C93.5,871.9 94.4,868.3 93.7,866.6 C93.0,864.9 92.5,863.4 89.6,862.7 C86.6,862.1 81.5,861.8 76.0,862.7 C70.5,863.6 61.5,866.9 56.6,868.3 C51.8,869.7 51.8,868.7 46.9,871.0 C42.0,873.3 33.4,878.3 27.4,882.3 C21.4,886.2 13.7,892.6 10.9,894.7 Z" fill="#e4002b"/><path d="M22.1,883.6 C26.2,881.6 39.5,874.9 46.9,871.9 C54.3,868.9 60.6,866.8 66.3,865.6 C72.0,864.4 76.9,864.1 80.9,864.6 C85.0,865.1 88.9,866.9 90.6,868.5 C92.3,870.1 91.9,872.3 91.1,874.4 C90.3,876.5 87.2,879.6 85.7,881.2 C84.2,882.8 82.9,883.6 82.3,884.1 C83.1,882.6 86.7,877.7 87.3,875.3 C87.9,872.9 87.6,870.7 85.7,869.5 C83.8,868.3 79.5,867.9 76.0,868.0 C72.5,868.1 69.2,869.1 64.4,870.0 C59.6,870.9 54.0,871.2 46.9,873.6 C39.8,876.0 26.2,882.6 22.1,884.4 Z" fill="#e4002b"/><path d="M54.4,873.6 C56,870.5 58.5,868.8 62,868.8 C66.5,868.8 69.3,871.5 70.4,875.5 C71.6,880 72,885 74,889.5 C75.8,893.3 78.5,896 82.2,897.8 L71.4,897.6 C68.8,895.8 67.4,893.2 66.6,890.6 L52.6,892.4 C49.5,893.2 45.5,894.4 41.8,895 C46.5,888.5 53.5,880.5 61.5,875 C59.5,873.4 57,873.2 54.4,873.6 Z M52.5,888.7 L64.8,887.6 C64.5,884.4 64.3,881.2 63.8,878.3 C59.5,881 55.5,884.8 52.5,888.7 Z" fill="#00204a" fill-rule="evenodd"/><path d="M66.5,888.3 C71,887.3 76,886 81,884.3 L81.3,885.2 C76.5,887.6 71.5,889.6 66.8,890.8 Z" fill="#00204a"/><text x="24.8" y="905.8" font-size="10.6" font-weight="bold" font-style="italic" fill="#00204a" textLength="71.5" lengthAdjust="spacingAndGlyphs">agonswim.com</text></g><rect x="113.3" y="865.4" width="233.7" height="40" rx="2.5" fill="#fff"/><path d="M116.30,865.6 V874.8" stroke="#3a5276" stroke-width="0.8"/><path d="M123.81,865.6 V871.2" stroke="#3a5276" stroke-width="0.8"/><path d="M131.33,865.6 V873.0" stroke="#3a5276" stroke-width="0.8"/><path d="M138.84,865.6 V871.2" stroke="#3a5276" stroke-width="0.8"/><path d="M146.36,865.6 V874.8" stroke="#3a5276" stroke-width="0.8"/><path d="M153.88,865.6 V871.2" stroke="#3a5276" stroke-width="0.8"/><path d="M161.39,865.6 V873.0" stroke="#3a5276" stroke-width="0.8"/><path d="M168.91,865.6 V871.2" stroke="#3a5276" stroke-width="0.8"/><path d="M176.42,865.6 V874.8" stroke="#3a5276" stroke-width="0.8"/><path d="M183.94,865.6 V871.2" stroke="#3a5276" stroke-width="0.8"/><path d="M191.45,865.6 V873.0" stroke="#3a5276" stroke-width="0.8"/><path d="M198.96,865.6 V871.2" stroke="#3a5276" stroke-width="0.8"/><path d="M206.48,865.6 V874.8" stroke="#3a5276" stroke-width="0.8"/><path d="M214.00,865.6 V871.2" stroke="#3a5276" stroke-width="0.8"/><path d="M221.51,865.6 V873.0" stroke="#3a5276" stroke-width="0.8"/><path d="M229.02,865.6 V871.2" stroke="#3a5276" stroke-width="0.8"/><path d="M236.54,865.6 V874.8" stroke="#3a5276" stroke-width="0.8"/><path d="M244.06,865.6 V871.2" stroke="#3a5276" stroke-width="0.8"/><path d="M251.57,865.6 V873.0" stroke="#3a5276" stroke-width="0.8"/><path d="M259.08,865.6 V871.2" stroke="#3a5276" stroke-width="0.8"/><path d="M266.60,865.6 V874.8" stroke="#3a5276" stroke-width="0.8"/><path d="M274.12,865.6 V871.2" stroke="#3a5276" stroke-width="0.8"/><path d="M281.63,865.6 V873.0" stroke="#3a5276" stroke-width="0.8"/><path d="M289.14,865.6 V871.2" stroke="#3a5276" stroke-width="0.8"/><path d="M296.66,865.6 V874.8" stroke="#3a5276" stroke-width="0.8"/><path d="M304.18,865.6 V871.2" stroke="#3a5276" stroke-width="0.8"/><path d="M311.69,865.6 V873.0" stroke="#3a5276" stroke-width="0.8"/><path d="M319.20,865.6 V871.2" stroke="#3a5276" stroke-width="0.8"/><path d="M326.72,865.6 V874.8" stroke="#3a5276" stroke-width="0.8"/><path d="M334.24,865.6 V871.2" stroke="#3a5276" stroke-width="0.8"/><path d="M341.75,865.6 V873.0" stroke="#3a5276" stroke-width="0.8"/><text x="146.4" y="882.6" font-size="9.3" text-anchor="middle" fill="#00204a">2</text><text x="176.4" y="882.6" font-size="9.3" text-anchor="middle" fill="#00204a">4</text><text x="206.5" y="882.6" font-size="9.3" text-anchor="middle" fill="#00204a">6</text><text x="236.5" y="882.6" font-size="9.3" text-anchor="middle" fill="#00204a">8</text><text x="266.6" y="882.6" font-size="9.3" text-anchor="middle" fill="#00204a">10</text><text x="296.7" y="882.6" font-size="9.3" text-anchor="middle" fill="#00204a">12</text><text x="326.7" y="882.6" font-size="9.3" text-anchor="middle" fill="#00204a">14</text><path d="M116.30,895.2 V903.9" stroke="#f04a6a" stroke-width="0.9"/><path d="M121.07,899.6 V903.9" stroke="#f58ea4" stroke-width="0.9"/><path d="M125.84,897.2 V903.9" stroke="#f26a86" stroke-width="0.9"/><path d="M130.62,899.6 V903.9" stroke="#f58ea4" stroke-width="0.9"/><path d="M135.39,895.2 V903.9" stroke="#f04a6a" stroke-width="0.9"/><path d="M140.16,899.6 V903.9" stroke="#f58ea4" stroke-width="0.9"/><path d="M144.93,897.2 V903.9" stroke="#f26a86" stroke-width="0.9"/><path d="M149.70,899.6 V903.9" stroke="#f58ea4" stroke-width="0.9"/><path d="M154.48,895.2 V903.9" stroke="#f04a6a" stroke-width="0.9"/><path d="M159.25,899.6 V903.9" stroke="#f58ea4" stroke-width="0.9"/><path d="M164.02,897.2 V903.9" stroke="#f26a86" stroke-width="0.9"/><path d="M168.79,899.6 V903.9" stroke="#f58ea4" stroke-width="0.9"/><path d="M173.56,895.2 V903.9" stroke="#f04a6a" stroke-width="0.9"/><path d="M178.34,899.6 V903.9" stroke="#f58ea4" stroke-width="0.9"/><path d="M183.11,897.2 V903.9" stroke="#f26a86" stroke-width="0.9"/><path d="M187.88,899.6 V903.9" stroke="#f58ea4" stroke-width="0.9"/><path d="M192.65,895.2 V903.9" stroke="#f04a6a" stroke-width="0.9"/><path d="M197.42,899.6 V903.9" stroke="#f58ea4" stroke-width="0.9"/><path d="M202.20,897.2 V903.9" stroke="#f26a86" stroke-width="0.9"/><path d="M206.97,899.6 V903.9" stroke="#f58ea4" stroke-width="0.9"/><path d="M211.74,895.2 V903.9" stroke="#f04a6a" stroke-width="0.9"/><path d="M216.51,899.6 V903.9" stroke="#f58ea4" stroke-width="0.9"/><path d="M221.28,897.2 V903.9" stroke="#f26a86" stroke-width="0.9"/><path d="M226.06,899.6 V903.9" stroke="#f58ea4" stroke-width="0.9"/><path d="M230.83,895.2 V903.9" stroke="#f04a6a" stroke-width="0.9"/><path d="M235.60,899.6 V903.9" stroke="#f58ea4" stroke-width="0.9"/><path d="M240.37,897.2 V903.9" stroke="#f26a86" stroke-width="0.9"/><path d="M245.14,899.6 V903.9" stroke="#f58ea4" stroke-width="0.9"/><path d="M249.92,895.2 V903.9" stroke="#f04a6a" stroke-width="0.9"/><path d="M254.69,899.6 V903.9" stroke="#f58ea4" stroke-width="0.9"/><path d="M259.46,897.2 V903.9" stroke="#f26a86" stroke-width="0.9"/><path d="M264.23,899.6 V903.9" stroke="#f58ea4" stroke-width="0.9"/><path d="M269.00,895.2 V903.9" stroke="#f04a6a" stroke-width="0.9"/><path d="M273.78,899.6 V903.9" stroke="#f58ea4" stroke-width="0.9"/><path d="M278.55,897.2 V903.9" stroke="#f26a86" stroke-width="0.9"/><path d="M283.32,899.6 V903.9" stroke="#f58ea4" stroke-width="0.9"/><path d="M288.09,895.2 V903.9" stroke="#f04a6a" stroke-width="0.9"/><path d="M292.86,899.6 V903.9" stroke="#f58ea4" stroke-width="0.9"/><path d="M297.64,897.2 V903.9" stroke="#f26a86" stroke-width="0.9"/><path d="M302.41,899.6 V903.9" stroke="#f58ea4" stroke-width="0.9"/><path d="M307.18,895.2 V903.9" stroke="#f04a6a" stroke-width="0.9"/><path d="M311.95,899.6 V903.9" stroke="#f58ea4" stroke-width="0.9"/><path d="M316.73,897.2 V903.9" stroke="#f26a86" stroke-width="0.9"/><path d="M321.50,899.6 V903.9" stroke="#f58ea4" stroke-width="0.9"/><path d="M326.27,895.2 V903.9" stroke="#f04a6a" stroke-width="0.9"/><path d="M331.04,899.6 V903.9" stroke="#f58ea4" stroke-width="0.9"/><path d="M335.81,897.2 V903.9" stroke="#f26a86" stroke-width="0.9"/><path d="M340.59,899.6 V903.9" stroke="#f58ea4" stroke-width="0.9"/><path d="M345.36,895.2 V903.9" stroke="#f04a6a" stroke-width="0.9"/><text x="154.2" y="894" font-size="9.3" text-anchor="end" fill="#e4002b">1</text><text x="192.4" y="894" font-size="9.3" text-anchor="end" fill="#e4002b">2</text><text x="230.5" y="894" font-size="9.3" text-anchor="end" fill="#e4002b">3</text><text x="268.7" y="894" font-size="9.3" text-anchor="end" fill="#e4002b">4</text><text x="306.9" y="894" font-size="9.3" text-anchor="end" fill="#e4002b">5</text><text x="345.1" y="894" font-size="9.3" text-anchor="end" fill="#e4002b">6</text><text x="119.6" y="882.6" font-size="14.6" fill="#00204a">cm</text><text x="116.2" y="894.4" font-size="18.3" fill="#e4002b">in</text><path d="M368.6,900.8 H436.8" stroke="#4c4c4c" stroke-width="1.6" stroke-dasharray="7.5 7.7"/><text x="461.4" y="907" font-size="20.6" fill="#00204a" textLength="69.4" lengthAdjust="spacingAndGlyphs">Thread</text><path d="M652.3,867.6 H735.1" stroke="#c22fc4" stroke-width="3.2"/><text x="745.8" y="871.2" font-size="16.7" fill="#00204a" textLength="226.3" lengthAdjust="spacingAndGlyphs">Maximum design printing area</text><rect x="653.8" y="900.1" width="6.1" height="6.1" fill="#9bd306" transform="rotate(0 656.8 903.1)"/><rect x="690.0" y="900.1" width="6.1" height="6.1" fill="#9bd306" transform="rotate(0 693.0 903.1)"/><rect x="726.2" y="900.1" width="6.1" height="6.1" fill="#9bd306" transform="rotate(0 729.2 903.1)"/><text x="748.2" y="908.2" font-size="20.2" fill="#00204a" textLength="54.5" lengthAdjust="spacingAndGlyphs">Bleed</text></svg>
</body></html>
